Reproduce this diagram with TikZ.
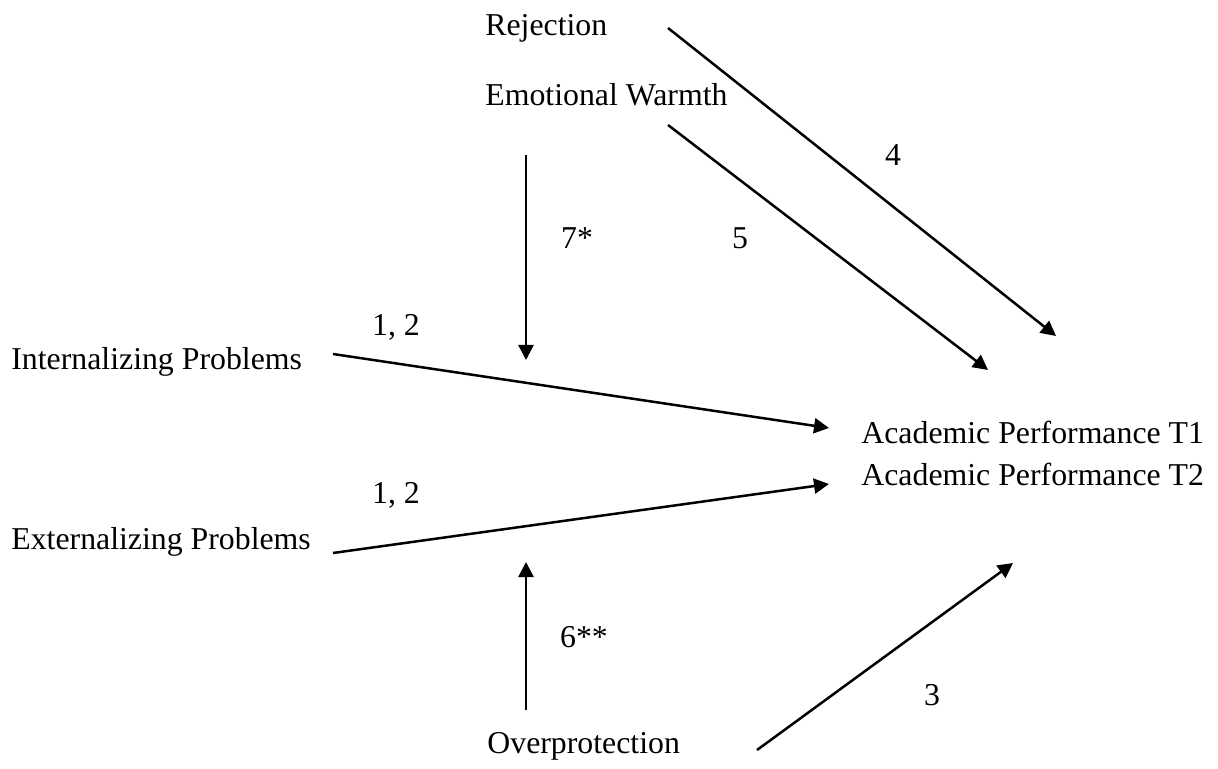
\documentclass[tikz,border=0pt]{standalone}
\usepackage{fontspec}
\setmainfont{Liberation Serif}
\usetikzlibrary{arrows.meta}
\begin{document}
\begin{tikzpicture}[x=0.5pt,y=-0.5pt,
  lbl/.style={inner sep=0pt,anchor=west,font=\fontsize{15.9}{19}\selectfont},
  num/.style={inner sep=0pt,font=\fontsize{15.9}{19}\selectfont},
  path/.style={line width=1.25pt,-{Triangle[length=7.5pt,width=7.5pt]}}]
\useasboundingbox (0,0) rectangle (1218,769);
% variables
\node[lbl] (rej) at (485,28) {Rejection};
\node[lbl] (ew) at (485,95) {Emotional Warmth};
\node[lbl] (int) at (11,362) {Internalizing Problems};
\node[lbl] (ext) at (11,542) {Externalizing Problems};
\node[lbl] (ap1) at (861,432) {Academic Performance T1};
\node[lbl] (ap2) at (861,474) {Academic Performance T2};
\node[lbl] (ovp) at (487,746) {Overprotection};
% path labels
\node[num] (l12a) at (396,327) {1, 2};
\node[num] (l12b) at (396,495) {1, 2};
\node[num] (l7) at (577,238) {7*};
\node[num] (l5) at (740,238) {5};
\node[num] (l4) at (893,155) {4};
\node[num] (l6) at (584,637) {6**};
\node[num] (l3) at (932,695) {3};
% connector end points
\coordinate (rejS) at (668,28);
\coordinate (rejE) at (1056,336);
\coordinate (ewS) at (668,125);
\coordinate (ewE) at (988,370);
\coordinate (modDS) at (526,155);
\coordinate (modDE) at (526,360);
\coordinate (intS) at (333,354);
\coordinate (intE) at (829,428);
\coordinate (extS) at (333,553);
\coordinate (extE) at (829,484);
\coordinate (modUS) at (526,710);
\coordinate (modUE) at (526,562);
\coordinate (ovpS) at (757,750);
\coordinate (ovpE) at (1013,563);
% connectors
\draw[path] (rejS) -- (rejE);
\draw[path] (ewS) -- (ewE);
\draw[path] (modDS) -- (modDE);
\draw[path] (intS) -- (intE);
\draw[path] (extS) -- (extE);
\draw[path] (modUS) -- (modUE);
\draw[path] (ovpS) -- (ovpE);
\end{tikzpicture}
\end{document}
